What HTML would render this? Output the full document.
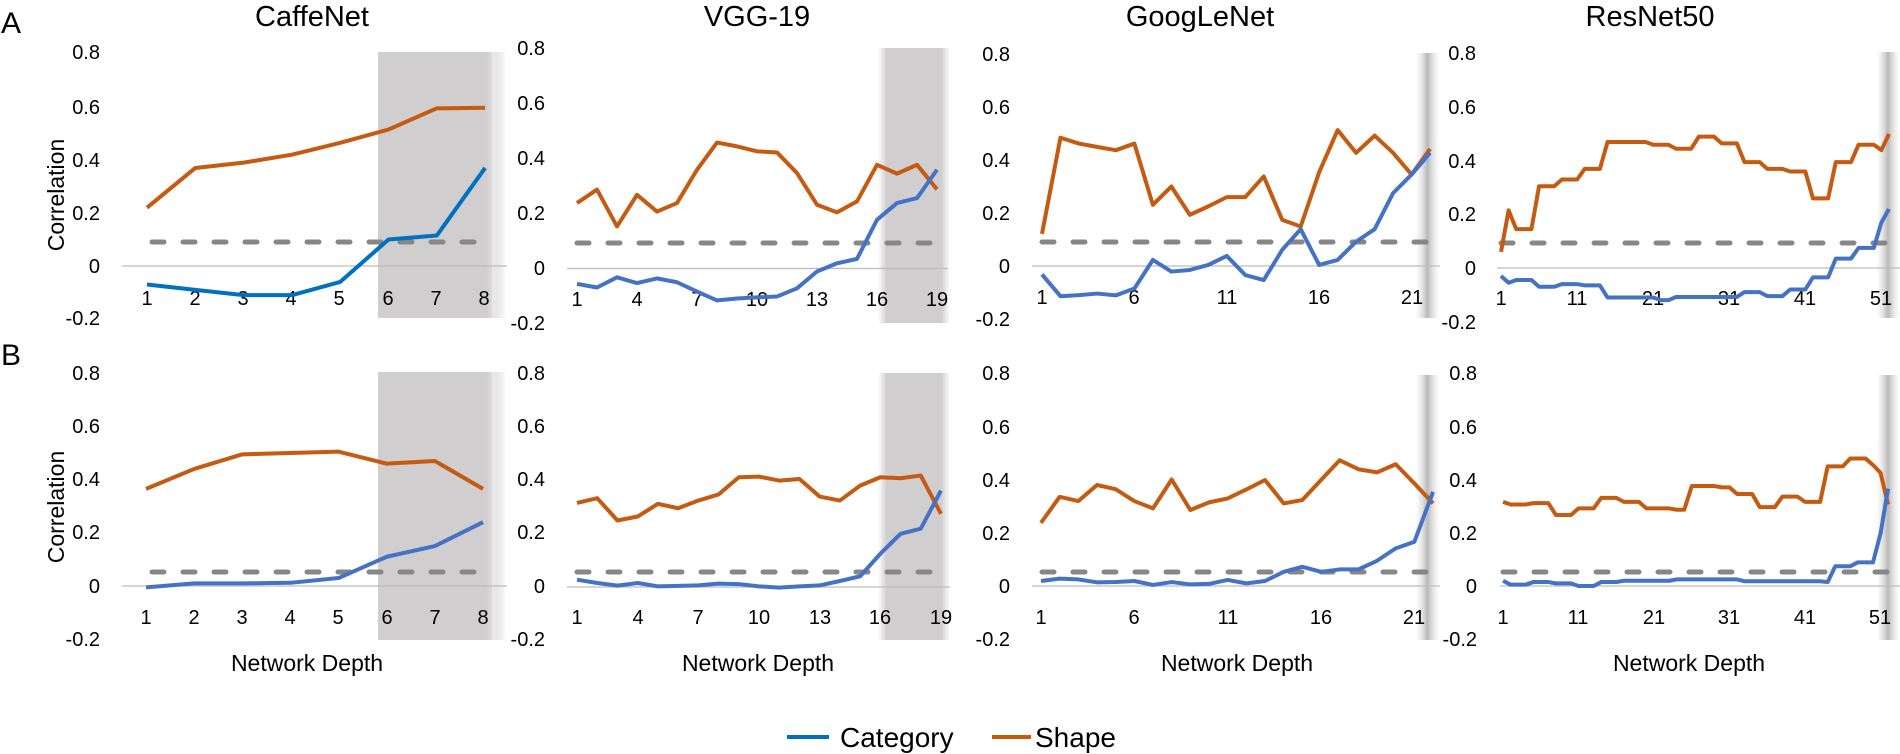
<!DOCTYPE html>
<html><head><meta charset="utf-8"><style>
html,body{margin:0;padding:0;background:#fff;}
svg{display:block;}
text{font-family:"Liberation Sans",sans-serif;fill:#000;}
.t{font-size:29px;text-anchor:middle;}
.yl{font-size:20px;text-anchor:end;}
.xl{font-size:20px;text-anchor:middle;}
.ax{font-size:23px;text-anchor:middle;}
.o{fill:none;stroke:#C55A11;stroke-width:4;stroke-linejoin:round;vector-effect:non-scaling-stroke;}
.b{fill:none;stroke:#4472C4;stroke-width:4;stroke-linejoin:round;vector-effect:non-scaling-stroke;}
.b2{fill:none;stroke:#0070C0;stroke-width:4;stroke-linejoin:round;vector-effect:non-scaling-stroke;}
.d{stroke:#878787;stroke-width:5;stroke-dasharray:12 19;stroke-linecap:round;}
.z{stroke:#bdbdbd;stroke-width:1.3;}
</style></head><body>
<svg width="1900" height="754" viewBox="0 0 1900 754" xmlns="http://www.w3.org/2000/svg">
<defs>
<linearGradient id="fr" x1="0" x2="1"><stop offset="0" stop-color="#d0cecf"/><stop offset="0.85" stop-color="#d0cecf"/><stop offset="1" stop-color="#d0cecf" stop-opacity="0"/></linearGradient>
<linearGradient id="fv" x1="0" x2="1"><stop offset="0" stop-color="#d0cecf" stop-opacity="0"/><stop offset="0.12" stop-color="#d0cecf"/><stop offset="0.88" stop-color="#d0cecf"/><stop offset="1" stop-color="#d0cecf" stop-opacity="0"/></linearGradient>
<linearGradient id="fn" x1="0" x2="1"><stop offset="0" stop-color="#e6e6e6" stop-opacity="0"/><stop offset="0.5" stop-color="#b8b8b8"/><stop offset="1" stop-color="#e6e6e6" stop-opacity="0"/></linearGradient>
<linearGradient id="fl" x1="0" x2="1"><stop offset="0" stop-color="#e8e8e8"/><stop offset="1" stop-color="#e8e8e8" stop-opacity="0"/></linearGradient>
</defs>

<rect x="378" y="52" width="128" height="266" fill="url(#fr)"/>
<rect x="492" y="52" width="14" height="266" fill="url(#fl)"/>
<rect x="878" y="48" width="72" height="275" fill="url(#fv)"/>
<rect x="1415" y="53" width="25" height="265" fill="url(#fn)"/>
<rect x="1876" y="52" width="24" height="266" fill="url(#fn)"/>
<rect x="378" y="372" width="128" height="268" fill="url(#fr)"/>
<rect x="492" y="372" width="14" height="268" fill="url(#fl)"/>
<rect x="878" y="373" width="72" height="267" fill="url(#fv)"/>
<rect x="1415" y="375" width="25" height="265" fill="url(#fn)"/>
<rect x="1876" y="375" width="24" height="265" fill="url(#fn)"/>

<text x="1" y="33" font-size="30">A</text>
<text x="1" y="365" font-size="30">B</text>
<text class="t" x="312" y="26">CaffeNet</text>
<text class="t" x="757" y="26">VGG-19</text>
<text class="t" x="1200" y="26">GoogLeNet</text>
<text class="t" x="1650" y="26">ResNet50</text>

<g class="yl">
<text x="100" y="59">0.8</text><text x="100" y="114">0.6</text><text x="100" y="167">0.4</text><text x="100" y="220">0.2</text><text x="100" y="273">0</text><text x="100" y="325">-0.2</text>
<text x="545" y="55">0.8</text><text x="545" y="110">0.6</text><text x="545" y="165">0.4</text><text x="545" y="220">0.2</text><text x="545" y="275">0</text><text x="545" y="330">-0.2</text>
<text x="1010" y="61">0.8</text><text x="1010" y="114">0.6</text><text x="1010" y="167">0.4</text><text x="1010" y="220">0.2</text><text x="1010" y="273">0</text><text x="1010" y="326">-0.2</text>
<text x="1476" y="60">0.8</text><text x="1476" y="114">0.6</text><text x="1476" y="168">0.4</text><text x="1476" y="221">0.2</text><text x="1476" y="275">0</text><text x="1476" y="329">-0.2</text>

<text x="100" y="380">0.8</text><text x="100" y="433">0.6</text><text x="100" y="486">0.4</text><text x="100" y="539">0.2</text><text x="100" y="593">0</text><text x="100" y="646">-0.2</text>
<text x="545" y="380">0.8</text><text x="545" y="433">0.6</text><text x="545" y="486">0.4</text><text x="545" y="539">0.2</text><text x="545" y="593">0</text><text x="545" y="646">-0.2</text>
<text x="1010" y="380">0.8</text><text x="1010" y="434">0.6</text><text x="1010" y="487">0.4</text><text x="1010" y="540">0.2</text><text x="1010" y="593">0</text><text x="1010" y="646">-0.2</text>
<text x="1477" y="380">0.8</text><text x="1477" y="434">0.6</text><text x="1477" y="487">0.4</text><text x="1477" y="540">0.2</text><text x="1477" y="593">0</text><text x="1477" y="646">-0.2</text>
</g>
<text class="ax" font-size="25" transform="translate(64,195) rotate(-90)">Correlation</text>
<text class="ax" font-size="25" transform="translate(64,507) rotate(-90)">Correlation</text>

<line class="z" x1="122" y1="266" x2="507" y2="266"/>
<line class="z" x1="567" y1="268.5" x2="948" y2="268.5"/>
<line class="z" x1="1032" y1="266" x2="1440" y2="266"/>
<line class="z" x1="1497" y1="268" x2="1900" y2="268"/>
<line class="z" x1="122" y1="586" x2="507" y2="586"/>
<line class="z" x1="567" y1="587" x2="950" y2="587"/>
<line class="z" x1="1032" y1="586" x2="1440" y2="586"/>
<line class="z" x1="1500" y1="586" x2="1900" y2="586"/>

<line class="d" x1="152" y1="242" x2="475" y2="242"/>
<line class="d" x1="577" y1="243" x2="935" y2="243"/>
<line class="d" x1="1042" y1="242" x2="1430" y2="242"/>
<line class="d" x1="1501" y1="243" x2="1889" y2="243"/>
<line class="d" x1="152" y1="572" x2="475" y2="572"/>
<line class="d" x1="577" y1="572" x2="935" y2="572"/>
<line class="d" x1="1042" y1="572" x2="1430" y2="572"/>
<line class="d" x1="1503" y1="572" x2="1888" y2="572"/>

<g class="xl">
<text x="147" y="305">1</text><text x="195" y="305">2</text><text x="243" y="305">3</text><text x="291" y="305">4</text><text x="339" y="305">5</text><text x="388" y="305">6</text><text x="436" y="305">7</text><text x="484" y="305">8</text>
<text x="577" y="306">1</text><text x="637" y="306">4</text><text x="697" y="306">7</text><text x="757" y="306">10</text><text x="817" y="306">13</text><text x="877" y="306">16</text><text x="937" y="306">19</text>
<text x="1042" y="304">1</text><text x="1134" y="304">6</text><text x="1227" y="304">11</text><text x="1319" y="304">16</text><text x="1412" y="304">21</text>
<text x="1501" y="305">1</text><text x="1577" y="305">11</text><text x="1653" y="305">21</text><text x="1729" y="305">31</text><text x="1805" y="305">41</text><text x="1881" y="305">51</text>

<text x="146" y="624">1</text><text x="194" y="624">2</text><text x="242" y="624">3</text><text x="290" y="624">4</text><text x="338" y="624">5</text><text x="387" y="624">6</text><text x="435" y="624">7</text><text x="483" y="624">8</text>
<text x="577" y="624">1</text><text x="638" y="624">4</text><text x="698" y="624">7</text><text x="759" y="624">10</text><text x="820" y="624">13</text><text x="880" y="624">16</text><text x="941" y="624">19</text>
<text x="1041" y="624">1</text><text x="1134" y="624">6</text><text x="1228" y="624">11</text><text x="1321" y="624">16</text><text x="1414" y="624">21</text>
<text x="1503" y="624">1</text><text x="1578" y="624">11</text><text x="1654" y="624">21</text><text x="1729" y="624">31</text><text x="1805" y="624">41</text><text x="1880" y="624">51</text>
</g>

<g class="ax" font-size="24">
<text x="307" y="671">Network Depth</text>
<text x="758" y="671">Network Depth</text>
<text x="1237" y="671">Network Depth</text>
<text x="1689" y="671">Network Depth</text>
</g>

<line x1="787" y1="737" x2="829" y2="737" stroke="#0070C0" stroke-width="4"/>
<text x="840" y="747" font-size="28">Category</text>
<line x1="992" y1="737" x2="1031" y2="737" stroke="#C55A11" stroke-width="4"/>
<text x="1035" y="747" font-size="28">Shape</text>

<g transform="translate(98.7,266) scale(48.3,-265)">
<polyline class="o" points="1,0.22 2,0.37 3,0.39 4,0.42 5,0.465 6,0.515 7,0.595 8,0.597"/>
<polyline class="b2" points="1,-0.07 2,-0.09 3,-0.11 4,-0.11 5,-0.06 6,0.10 7,0.115 8,0.37"/>
</g>
<g transform="translate(557,268.5) scale(20,-275)">
<polyline class="o" points="1,0.238 2,0.287 3,0.153 4,0.268 5,0.207 6,0.238 7,0.359 8,0.458 9,0.444 10,0.426 11,0.422 12,0.347 13,0.232 14,0.204 15,0.244 16,0.377 17,0.345 18,0.377 19,0.288"/>
<polyline class="b" points="1,-0.056 2,-0.069 3,-0.032 4,-0.053 5,-0.036 6,-0.05 7,-0.084 8,-0.116 9,-0.109 10,-0.105 11,-0.102 12,-0.072 13,-0.011 14,0.019 15,0.035 16,0.177 17,0.238 18,0.256 19,0.359"/>
</g>
<g transform="translate(1023.5,266) scale(18.48,-265)">
<polyline class="o" points="1,0.121 2,0.484 3,0.462 4,0.449 5,0.437 6,0.462 7,0.231 8,0.30 9,0.193 10,0.225 11,0.26 12,0.26 13,0.338 14,0.174 15,0.149 16,0.354 17,0.513 18,0.427 19,0.492 20,0.427 21,0.345 22,0.442"/>
<polyline class="b" points="1,-0.032 2,-0.114 3,-0.11 4,-0.104 5,-0.111 6,-0.085 7,0.023 8,-0.021 9,-0.015 10,0.004 11,0.038 12,-0.034 13,-0.053 14,0.061 15,0.139 16,0.004 17,0.023 18,0.092 19,0.139 20,0.275 21,0.345 22,0.427"/>
</g>
<g transform="translate(1493.4,268) scale(7.608,-268)">
<polyline class="o" points="1,0.06 2,0.215 3,0.145 4,0.145 5,0.145 6,0.305 7,0.305 8,0.305 9,0.33 10,0.33 11,0.33 12,0.37 13,0.37 14,0.37 15,0.47 16,0.47 17,0.47 18,0.47 19,0.47 20,0.47 21,0.46 22,0.46 23,0.46 24,0.445 25,0.445 26,0.445 27,0.49 28,0.49 29,0.49 30,0.465 31,0.465 32,0.465 33,0.395 34,0.395 35,0.395 36,0.37 37,0.37 38,0.37 39,0.36 40,0.36 41,0.36 42,0.26 43,0.26 44,0.26 45,0.395 46,0.395 47,0.395 48,0.46 49,0.46 50,0.46 51,0.44 52,0.5"/>
<polyline class="b" points="1,-0.03 2,-0.055 3,-0.045 4,-0.045 5,-0.045 6,-0.07 7,-0.07 8,-0.07 9,-0.06 10,-0.06 11,-0.06 12,-0.065 13,-0.065 14,-0.065 15,-0.11 16,-0.11 17,-0.11 18,-0.11 19,-0.11 20,-0.11 21,-0.11 22,-0.12 23,-0.12 24,-0.108 25,-0.108 26,-0.108 27,-0.108 28,-0.108 29,-0.108 30,-0.108 31,-0.108 32,-0.108 33,-0.09 34,-0.09 35,-0.09 36,-0.105 37,-0.105 38,-0.105 39,-0.08 40,-0.08 41,-0.08 42,-0.035 43,-0.035 44,-0.035 45,0.035 46,0.035 47,0.035 48,0.075 49,0.075 50,0.075 51,0.17 52,0.22"/>
</g>

<g transform="translate(97.9,586) scale(48.14,-266)">
<polyline class="o" points="1,0.365 2,0.44 3,0.495 4,0.5 5,0.505 6,0.46 7,0.47 8,0.365"/>
<polyline class="b" points="1,-0.005 2,0.01 3,0.01 4,0.012 5,0.03 6,0.11 7,0.15 8,0.24"/>
</g>
<g transform="translate(556.8,587) scale(20.22,-266)">
<polyline class="o" points="1,0.316 2,0.334 3,0.25 4,0.265 5,0.3125 6,0.296 7,0.325 8,0.348 9,0.4125 10,0.415 11,0.40 12,0.406 13,0.34 14,0.325 15,0.381 16,0.4125 17,0.409 18,0.419 19,0.275"/>
<polyline class="b" points="1,0.0275 2,0.015 3,0.005 4,0.015 5,0.0025 6,0.004 7,0.006 8,0.0125 9,0.011 10,0.0025 11,-0.0025 12,0.0025 13,0.006 14,0.0225 15,0.04 16,0.125 17,0.2 18,0.219 19,0.3625"/>
</g>
<g transform="translate(1022.3,586) scale(18.67,-263)">
<polyline class="o" points="1,0.24 2,0.339 3,0.323 4,0.384 5,0.368 6,0.323 7,0.295 8,0.405 9,0.289 10,0.318 11,0.333 12,0.367 13,0.403 14,0.314 15,0.327 16,0.403 17,0.478 18,0.444 19,0.432 20,0.463 21,0.39 22,0.314"/>
<polyline class="b" points="1,0.019 2,0.028 3,0.025 4,0.014 5,0.015 6,0.019 7,0.004 8,0.015 9,0.006 10,0.008 11,0.023 12,0.01 13,0.019 14,0.054 15,0.073 16,0.054 17,0.063 18,0.063 19,0.096 20,0.143 21,0.168 22,0.358"/>
</g>
<g transform="translate(1495.5,586) scale(7.55,-263)">
<polyline class="o" points="1,0.32 2,0.31 3,0.31 4,0.31 5,0.315 6,0.315 7,0.315 8,0.27 9,0.27 10,0.27 11,0.295 12,0.295 13,0.295 14,0.335 15,0.335 16,0.335 17,0.32 18,0.32 19,0.32 20,0.295 21,0.295 22,0.295 23,0.295 24,0.29 25,0.29 26,0.38 27,0.38 28,0.38 29,0.38 30,0.375 31,0.375 32,0.35 33,0.35 34,0.35 35,0.30 36,0.30 37,0.30 38,0.34 39,0.34 40,0.34 41,0.32 42,0.32 43,0.32 44,0.455 45,0.455 46,0.455 47,0.485 48,0.485 49,0.485 50,0.46 51,0.43 52,0.31"/>
<polyline class="b" points="1,0.02 2,0.005 3,0.005 4,0.005 5,0.015 6,0.015 7,0.015 8,0.01 9,0.01 10,0.01 11,0 12,0 13,0 14,0.015 15,0.015 16,0.015 17,0.02 18,0.02 19,0.02 20,0.02 21,0.02 22,0.02 23,0.02 24,0.025 25,0.025 26,0.025 27,0.025 28,0.025 29,0.025 30,0.025 31,0.025 32,0.025 33,0.018 34,0.018 35,0.018 36,0.018 37,0.018 38,0.018 39,0.018 40,0.018 41,0.018 42,0.018 43,0.018 44,0.015 45,0.075 46,0.075 47,0.075 48,0.09 49,0.09 50,0.09 51,0.2 52,0.37"/>
</g>
</svg>
</body></html>
